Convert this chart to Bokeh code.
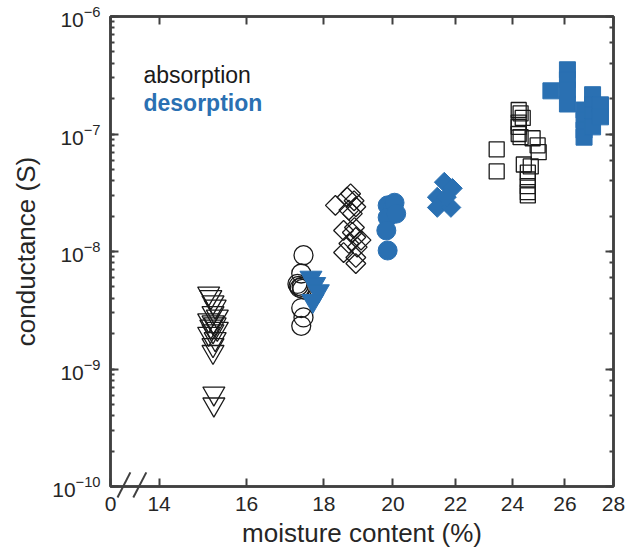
from bokeh.plotting import figure
from bokeh.models import FixedTicker, LogAxis, Label, LogTicker, CustomJSTickFormatter
from bokeh.embed import file_html
from bokeh.resources import INLINE

# ---------------- data ----------------
# absorption (open markers)
abs_tri_x = [15.10, 15.15, 15.20, 15.25, 15.20, 15.30, 15.10, 15.20, 15.25, 15.15, 15.30, 15.20, 15.10, 15.25, 15.20, 15.20, 15.22, 15.22]
abs_tri_y = [4.4e-9, 4.1e-9, 3.7e-9, 3.4e-9, 3.0e-9, 2.8e-9, 2.6e-9, 2.5e-9, 2.4e-9, 2.3e-9, 2.2e-9, 2.1e-9, 2.0e-9, 1.8e-9, 1.6e-9, 1.4e-9, 6.2e-10, 5.0e-10]

abs_circ_x = [17.45, 17.39, 17.29, 17.32, 17.35, 17.40, 17.39, 17.45, 17.39, 17.42]
abs_circ_y = [9.3e-9, 6.5e-9, 5.3e-9, 5.1e-9, 4.9e-9, 5.0e-9, 3.3e-9, 2.75e-9, 2.33e-9, 4.8e-9]

abs_dia_x = [18.32, 18.65, 18.75, 18.85, 18.90, 18.70, 18.80, 18.55, 18.55, 18.86, 18.90, 18.94, 18.90, 18.90, 18.70, 19.05, 18.80]
abs_dia_y = [2.47e-8, 2.9e-8, 3.1e-8, 2.7e-8, 2.4e-8, 2.25e-8, 2.1e-8, 1.51e-8, 9.8e-9, 1.6e-8, 1.32e-8, 1.09e-8, 8.9e-9, 7.9e-9, 1.17e-8, 1.25e-8, 1.45e-8]

abs_sq_x = [23.43, 23.43, 24.23, 24.30, 24.38, 24.23, 24.23, 24.23, 24.30, 24.75, 24.94, 24.98, 24.42, 24.68, 24.57, 24.57, 24.57, 24.57, 24.57]
abs_sq_y = [7.4e-8, 4.8e-8, 1.6e-7, 1.5e-7, 1.37e-7, 1.25e-7, 1.15e-7, 1.0e-7, 9.4e-8, 9.2e-8, 8.0e-8, 7.0e-8, 5.5e-8, 5.3e-8, 4.7e-8, 4.1e-8, 3.6e-8, 3.2e-8, 3.0e-8]

# desorption (filled markers)
des_tri_x = [17.65, 17.75, 17.85, 17.70]
des_tri_y = [6.0e-9, 5.3e-9, 4.6e-9, 3.8e-9]

des_circ_x = [19.84, 20.00, 19.84, 19.80, 19.84, 20.05, 20.10]
des_circ_y = [2.47e-8, 2.38e-8, 1.95e-8, 1.51e-8, 1.02e-8, 2.6e-8, 2.1e-8]

des_dia_x = [21.63, 21.90, 21.40, 21.40, 21.85, 21.70]
des_dia_y = [3.89e-8, 3.45e-8, 2.9e-8, 2.37e-8, 2.37e-8, 2.9e-8]

des_sq_x = [25.45, 26.10, 26.10, 26.10, 26.10, 26.77, 26.77, 26.77, 26.77, 27.12, 27.12, 27.12, 27.12, 27.45, 27.45]
des_sq_y = [2.33e-7, 3.52e-7, 2.9e-7, 2.37e-7, 1.8e-7, 1.6e-7, 1.32e-7, 1.08e-7, 9.4e-8, 2.16e-7, 1.77e-7, 1.45e-7, 1.15e-7, 1.77e-7, 1.40e-7]

x_ticks = [13, 14, 16, 18, 20, 22, 24, 26, 28]
x_tick_labels = ["0", "14", "16", "18", "20", "22", "24", "26", "28"]
x_min, x_max = 13, 28
y_min, y_max = 1e-10, 1e-6

# axis-break decoration (two slashes across the x axis)
break_x0 = [13.14, 13.46]
break_x1 = [13.40, 13.73]
break_y0 = 8.05e-11
break_y1 = 1.318e-10

# ---------------- styling ----------------
FONT = "Liberation Sans"
BLUE = "#2a70b2"
DARK = "#1a1a1a"
AX = "#404040"

p = figure(width=628, height=555, x_axis_type="log", y_axis_type="log",
           x_range=(x_min, x_max), y_range=(y_min, y_max),
           output_backend="svg", toolbar_location=None,
           min_border_left=110, min_border_right=15, min_border_top=16, min_border_bottom=69)
# frame outline guarantees a visible box edge on all four sides
p.outline_line_color = AX
p.outline_line_width = 2.5
p.outline_line_alpha = 1.0
p.xgrid.visible = False
p.ygrid.visible = False
p.background_fill_color = "white"
p.border_fill_color = "white"

bottom = p.below[0]
left = p.left[0]

bottom.ticker = FixedTicker(ticks=x_ticks, minor_ticks=[])
bottom.major_label_overrides = {t: l for t, l in zip(x_ticks, x_tick_labels)}
bottom.axis_label = "moisture content (%)"
left.axis_label = "conductance (S)"

top = LogAxis(ticker=FixedTicker(ticks=x_ticks, minor_ticks=[]),
              formatter=CustomJSTickFormatter(code="return ''"))
right = LogAxis(ticker=LogTicker(), formatter=CustomJSTickFormatter(code="return ''"))
p.add_layout(top, "above")
p.add_layout(right, "right")

for ax in [bottom, left, top, right]:
    ax.axis_line_color = AX
    ax.axis_line_width = 2.5
    ax.major_tick_line_color = AX
    ax.major_tick_line_width = 2
    ax.major_tick_in = 8
    ax.major_tick_out = 0
    ax.minor_tick_line_color = AX
    ax.minor_tick_line_width = 2
    ax.minor_tick_in = 4
    ax.minor_tick_out = 0
    ax.major_label_text_font = FONT
    ax.major_label_text_font_size = "21px"
    ax.major_label_text_color = "#262626"
    ax.axis_label_text_font = FONT
    ax.axis_label_text_font_size = "26px"
    ax.axis_label_text_font_style = "normal"
    ax.axis_label_text_color = "#262626"
for ax in [top, right]:
    ax.major_label_standoff = 0

bottom.major_label_standoff = 10
bottom.axis_label_standoff = 4
left.major_label_standoff = 10
left.axis_label_standoff = 8

# ---------------- markers ----------------
p.scatter(abs_tri_x, abs_tri_y, marker="inverted_triangle", size=22,
          fill_color=None, line_color=DARK, line_width=1.3)
p.scatter(abs_circ_x, abs_circ_y, marker="circle", size=19,
          fill_color=None, line_color=DARK, line_width=1.3)
p.scatter(abs_dia_x, abs_dia_y, marker="square", angle=0.7853981634, size=14,
          fill_color=None, line_color=DARK, line_width=1.3)
p.scatter(abs_sq_x, abs_sq_y, marker="square", size=15,
          fill_color=None, line_color=DARK, line_width=1.3)

p.scatter(des_tri_x, des_tri_y, marker="inverted_triangle", size=22,
          fill_color=BLUE, line_color=BLUE, line_width=1)
p.scatter(des_circ_x, des_circ_y, marker="circle", size=19,
          fill_color=BLUE, line_color=BLUE, line_width=1)
p.scatter(des_dia_x, des_dia_y, marker="square", angle=0.7853981634, size=14,
          fill_color=BLUE, line_color=BLUE, line_width=1)
p.scatter(des_sq_x, des_sq_y, marker="square", size=16,
          fill_color=BLUE, line_color=BLUE, line_width=1)

# ---------------- legend texts ----------------
p.add_layout(Label(x=13.67, y=3.19e-7, text="absorption", text_font=FONT,
                   text_font_size="23px", text_color="#1a1a1a", text_baseline="alphabetic"))
p.add_layout(Label(x=13.67, y=1.84e-7, text="desorption", text_font=FONT,
                   text_font_size="23px", text_font_style="bold", text_color=BLUE,
                   text_baseline="alphabetic"))

# ---------------- axis break slashes ----------------
p.segment(x0=break_x0, y0=[break_y0] * 2, x1=break_x1, y1=[break_y1] * 2,
          line_color=AX, line_width=2, level="overlay")

open("out.html", "w").write(file_html(p, INLINE))
